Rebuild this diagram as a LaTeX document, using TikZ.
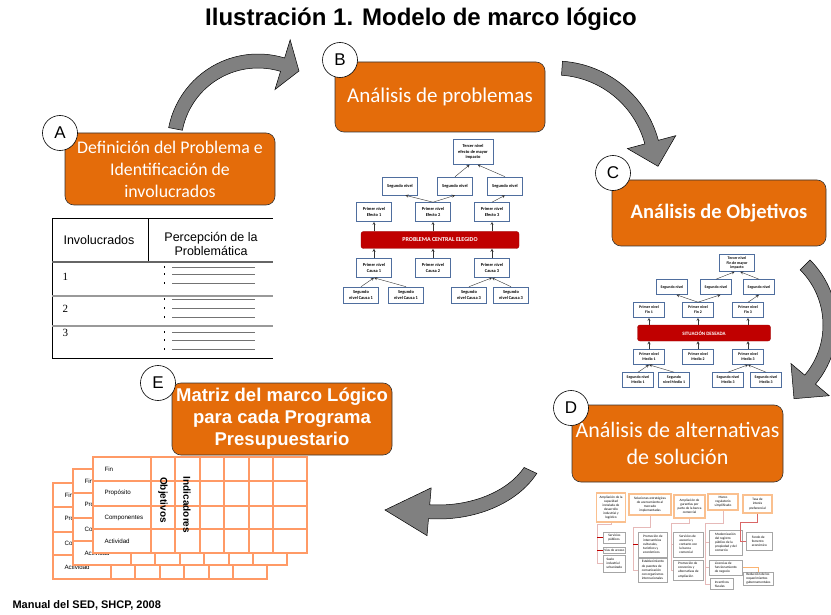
\documentclass[tikz,border=0pt]{standalone}
\usepackage{fontspec}
\setmainfont{Liberation Sans}
\newfontfamily\calibri{Carlito}
\newfontfamily\serifa{Liberation Serif}
\usetikzlibrary{calc}
\definecolor{naranja}{HTML}{E46C0A}
\definecolor{azularbol}{HTML}{4F6E9E}
\definecolor{rojobarra}{HTML}{C00000}
\definecolor{salmon}{HTML}{FF9A66}
\definecolor{durazno}{HTML}{FAC08F}
\definecolor{rosa}{HTML}{E6B9B8}
\definecolor{grisflecha}{HTML}{808080}
\tikzset{
	pasostyle/.style={rectangle,rounded corners=9pt,draw=black!80,line width=0.6pt,fill=naranja,text=white,align=center,inner sep=2pt},
	letrastyle/.style={circle,draw=black,line width=0.6pt,fill=white,minimum size=35pt,inner sep=0pt,font=\fontsize{17}{17}\selectfont},
	flechastyle/.style={fill=grisflecha,draw=black,line width=0.5pt},
	arbolstyle/.style={rectangle,draw=azularbol,line width=0.6pt,fill=white,align=center,inner sep=0.5pt,minimum width=35pt,minimum height=18pt,font=\calibri\bfseries\fontsize{4.4}{5.4}\selectfont},
	chicostyle/.style={arbolstyle,minimum width=31pt,minimum height=15pt,font=\calibri\bfseries\fontsize{3.9}{4.8}\selectfont},
	barrastyle/.style={rectangle,rounded corners=2.5pt,fill=rojobarra,draw=rojobarra!80!black,text=white,font=\calibri\bfseries\fontsize{6}{6}\selectfont},
	flechita/.style={-stealth,line width=0.4pt,black!80},
	altstyle/.style={rectangle,draw=durazno,line width=1.1pt,fill=white,align=center,inner sep=0.5pt,font=\calibri\fontsize{3.4}{4.1}\selectfont},
	accionstyle/.style={rectangle,draw=black!35,line width=0.7pt,fill=white,align=left,inner sep=0.8pt,anchor=west,font=\calibri\fontsize{3.4}{4.1}\selectfont},
	liga/.style={rosa,line width=0.6pt},
	ligaroja/.style={rojobarra,line width=0.9pt},
	matrizstyle/.style={salmon,line width=1.3pt},
	filastyle/.style={anchor=west,font=\fontsize{6.2}{7}\selectfont},
	columnastyle/.style={rotate=-90,font=\bfseries\fontsize{10}{10}\selectfont},
	puntos/.style={black!55,line width=0.25pt,dash pattern=on 0.25pt off 0.6pt}
}
\newcommand{\flecha}[8]{%
	\pgfmathsetmacro\rxo{#3+7}\pgfmathsetmacro\ryo{#4+7}%
	\pgfmathsetmacro\rxi{#3-7}\pgfmathsetmacro\ryi{#4-7}%
	\pgfmathsetmacro\sax{(#3+7)*cos(#5)}\pgfmathsetmacro\say{(#4+7)*sin(#5)}%
	\pgfmathsetmacro\pax{(#3+#7)*cos(#6)}\pgfmathsetmacro\pay{(#4+#7)*sin(#6)}%
	\pgfmathsetmacro\pbx{(#3-#7)*cos(#6)}\pgfmathsetmacro\pby{(#4-#7)*sin(#6)}%
	\pgfmathsetmacro\pix{(#3-7)*cos(#6)}\pgfmathsetmacro\piy{(#4-7)*sin(#6)}%
	\begin{scope}[shift={(#1,#2)}]
		\filldraw[flechastyle] (\sax,\say) arc[start angle=#5,end angle=#6,x radius=\rxo,y radius=\ryo]
			-- (\pax,\pay) -- #8 -- (\pbx,\pby) -- (\pix,\piy)
			arc[start angle=#6,end angle=#5,x radius=\rxi,y radius=\ryi] -- cycle;
	\end{scope}}
\begin{document}
\begin{tikzpicture}[x=1pt,y=-1pt]
		\useasboundingbox (0,0) rectangle (831,615);
		\node[font=\bfseries\fontsize{24}{26}\selectfont] (titulo) at (421,19) {Ilustración 1. Modelo de marco lógico};
		\flecha{258}{145}{84}{84}{191}{287}{26}{(41,-74)}
		\flecha{555}{168}{100}{100}{274}{345}{25}{(103,-1.7)}
		\flecha{745}{325}{85}{85}{315}{400}{25}{(49,73.7)}
		\flecha{438}{440}{102}{72}{25}{95}{24}{(-53,70)}
		\node[pasostyle,minimum width=210pt,minimum height=72pt,font=\calibri\fontsize{17.8}{22}\selectfont] (pasoa) at (170,169) {Definición del Problema e\\Identificación de\\involucrados};
		\node[pasostyle,minimum width=210pt,minimum height=70pt,font=\calibri\fontsize{21}{24}\selectfont] (pasob) at (440,97) {Análisis de problemas};
		\node[pasostyle,minimum width=214pt,minimum height=66pt,font=\calibri\bfseries\fontsize{20.5}{24}\selectfont] (pasoc) at (719,213) {Análisis de Objetivos};
		\node[pasostyle,minimum width=211pt,minimum height=77pt,font=\calibri\fontsize{22}{27}\selectfont] (pasod) at (677.5,443.5) {Análisis de alternativas\\de solución};
		\node[pasostyle,minimum width=220pt,minimum height=72pt,font=\bfseries\fontsize{18.5}{22}\selectfont] (pasoe) at (282,419) {Matriz del marco Lógico\\para cada Programa\\Presupuestario};
		\node[letrastyle] (letraa) at (60,133) {A};
		\node[letrastyle] (letrab) at (340,60) {B};
		\node[letrastyle] (letrac) at (613,173) {C};
		\node[letrastyle] (letrad) at (571,408) {D};
		\node[letrastyle] (letrae) at (158,383) {E};
		\draw[line width=1pt] (52,219) -- (273,219);
		\draw[line width=0.8pt] (52,219) -- (52,358);
		\draw[line width=0.6pt] (148,219) -- (148,262);
		\draw[line width=1.2pt,black!60] (52,262) -- (273,262);
		\draw[line width=1.2pt,black!40] (52,296) -- (273,296);
		\draw[line width=1.2pt,black!40] (52,326) -- (273,326);
		\draw[line width=1pt] (52,358) -- (273,358);
		\node[font=\fontsize{12.5}{14.5}\selectfont] (involucrados) at (99,240) {Involucrados};
		\node[font=\fontsize{12.5}{14.5}\selectfont,align=center] (percepcion) at (211,244) {Percepción de la\\Problemática};
		\node[anchor=west,font=\serifa\fontsize{11}{11}\selectfont] (fila1) at (59,277) {1};
		\node[anchor=west,font=\serifa\fontsize{11}{11}\selectfont] (fila2) at (59,309) {2};
		\node[anchor=west,font=\serifa\fontsize{11}{11}\selectfont] (fila3) at (59,333) {3};
		\foreach \y in {267,274,283,299,308,317,332,340,349} {
			\fill (163.5,\y-0.8) rectangle +(1.6,1.6);
			\draw[puntos] (172,\y) -- (254,\y);
		}
		\node[arbolstyle,minimum width=40pt,minimum height=25pt] (tercerb) at (473,152) {Tercer nivel\\efecto de mayor\\impacto};
		\node[arbolstyle] (segb1) at (400,186) {Segundo nivel};
		\node[arbolstyle] (segb2) at (455,186) {Segundo nivel};
		\node[arbolstyle] (segb3) at (505,186) {Segundo nivel};
		\node[arbolstyle,minimum height=19pt] (efb1) at (374,212) {Primer nivel\\Efecto 1};
		\node[arbolstyle,minimum height=19pt] (efb2) at (433,212) {Primer nivel\\Efecto 2};
		\node[arbolstyle,minimum height=19pt] (efb3) at (492,212) {Primer nivel\\Efecto 3};
		\node[barrastyle,minimum width=158pt,minimum height=17pt] (problema) at (440,240) {PROBLEMA CENTRAL ELEGIDO};
		\node[arbolstyle,minimum height=19pt] (cab1) at (374,268) {Primer nivel\\Causa 1};
		\node[arbolstyle,minimum height=19pt] (cab2) at (433,268) {Primer nivel\\Causa 2};
		\node[arbolstyle,minimum height=19pt] (cab3) at (492,268) {Primer nivel\\Causa 3};
		\node[arbolstyle,minimum height=16pt] (secb1) at (361,295) {Segundo\\nivel Causa 1};
		\node[arbolstyle,minimum height=16pt] (secb2) at (406,295) {Segundo\\nivel Causa 1};
		\node[arbolstyle,minimum height=16pt] (secb3) at (469,295) {Segundo\\nivel Causa 3};
		\node[arbolstyle,minimum height=16pt] (secb4) at (511,295) {Segundo\\nivel Causa 3};
		\draw[flechita] (secb1.north) -- (cab1.south);
		\draw[flechita] (secb2.north) -- (cab1.south);
		\draw[flechita] (secb3.north) -- (cab3.south);
		\draw[flechita] (secb4.north) -- (cab3.south);
		\foreach \n in {1,2,3} {
			\draw[flechita] (cab\n.north) -- (cab\n.north |- problema.south);
			\draw[flechita] (efb\n.south |- problema.north) -- (efb\n.south);
		}
		\draw[flechita] (efb2.north) -- (segb1.300);
		\draw[flechita] (efb2.north) -- (segb2.south);
		\draw[flechita] (efb3.north) -- (segb3.south);
		\draw[flechita] (segb2.north) -- (tercerb.255);
		\draw[flechita] (segb3.north) -- (tercerb.290);
		\node[chicostyle,minimum width=35pt,minimum height=17pt] (tercerc) at (737,263) {Tercer nivel\\Fin de mayor\\impacto};
		\node[chicostyle] (segc1) at (672,287) {Segundo nivel};
		\node[chicostyle] (segc2) at (716,287) {Segundo nivel};
		\node[chicostyle] (segc3) at (759,287) {Segundo nivel};
		\node[chicostyle] (finc1) at (649,310) {Primer nivel\\Fin 1};
		\node[chicostyle] (finc2) at (698,310) {Primer nivel\\Fin 2};
		\node[chicostyle] (finc3) at (748,310) {Primer nivel\\Fin 3};
		\node[barrastyle,minimum width=133pt,minimum height=16pt,font=\calibri\bfseries\fontsize{5}{5}\selectfont] (situacion) at (704,333) {SITUACIÓN DESEADA};
		\node[chicostyle] (medc1) at (649,357) {Primer nivel\\Medio 1};
		\node[chicostyle] (medc2) at (698,357) {Primer nivel\\Medio 2};
		\node[chicostyle] (medc3) at (748,357) {Primer nivel\\Medio 3};
		\node[chicostyle] (semc1) at (638,380) {Segundo nivel\\Medio 1};
		\node[chicostyle] (semc2) at (674,380) {Segundo\\nivel Medio 1};
		\node[chicostyle] (semc3) at (728,380) {Segundo nivel\\Medio 3};
		\node[chicostyle] (semc4) at (766,380) {Segundo nivel\\Medio 3};
		\draw[flechita] (semc1.north) -- (medc1.south);
		\draw[flechita] (semc2.north) -- (medc1.south);
		\draw[flechita] (semc3.north) -- (medc3.south);
		\draw[flechita] (semc4.north) -- (medc3.south);
		\foreach \n in {1,2,3} {
			\draw[flechita] (medc\n.north) -- (medc\n.north |- situacion.south);
			\draw[flechita] (finc\n.south |- situacion.north) -- (finc\n.south);
		}
		\draw[flechita] (finc2.north) -- (segc1.300);
		\draw[flechita] (finc2.north) -- (segc2.300);
		\draw[flechita] (finc3.north) -- (segc3.south);
		\draw[flechita] (segc2.north) -- (tercerc.255);
		\draw[flechita] (segc3.north) -- (tercerc.290);
		\node[altstyle,minimum width=29pt,minimum height=29pt] (alt1) at (611,507.5) {Ampliación de la\\capacidad\\instalada de\\desarrollo\\industrial y\\logístico};
		\node[altstyle,minimum width=42pt,minimum height=21pt] (alt2) at (650,504.5) {Soluciones estratégicas\\de acercamiento al\\mercado\\implementadas};
		\node[altstyle,minimum width=31pt,minimum height=23pt] (alt3) at (689.5,506.5) {Ampliación de\\garantías por\\parte de la banca\\comercial};
		\node[altstyle,minimum width=30pt,minimum height=16pt] (alt4) at (723,502) {Marco\\regulatorio\\simplificado};
		\node[altstyle,minimum width=29pt,minimum height=18pt] (alt5) at (757.5,504) {Tasa de\\interés\\preferencial};
		\node[accionstyle,minimum width=22pt,minimum height=11pt] (acc11) at (603,537.5) {Servicios\\públicos};
		\node[accionstyle,minimum width=22pt,minimum height=6pt] (acc12) at (603,550) {Vías de acceso};
		\node[accionstyle,minimum width=22pt,minimum height=17pt] (acc13) at (603,563.5) {Suelo\\industrial\\urbanizado};
		\node[accionstyle,minimum width=29pt,minimum height=25pt] (acc21) at (638,544.5) {Promoción de\\intercambios\\culturales,\\turísticos y\\económicos};
		\node[accionstyle,minimum width=29pt,minimum height=24pt] (acc22) at (638,570) {Establecimiento\\de puentes de\\comunicación\\con organismos\\internacionales};
		\node[accionstyle,minimum width=30pt,minimum height=25pt] (acc31) at (673,544.5) {Servicios de\\asesoría y\\contacto con\\la banca\\comercial};
		\node[accionstyle,minimum width=30pt,minimum height=20pt] (acc32) at (673,570) {Promoción de\\convenios y\\alternativas de\\ampliación};
		\node[accionstyle,minimum width=33pt,minimum height=25pt] (acc41) at (709,542.5) {Modernización\\del registro\\público de la\\propiedad y del\\comercio};
		\node[accionstyle,minimum width=33pt,minimum height=15pt] (acc42) at (709,567.5) {Licencias de\\funcionamiento\\de negocio};
		\node[accionstyle,minimum width=23pt,minimum height=11pt] (acc43) at (710,584) {Incentivos\\fiscales};
		\node[accionstyle,minimum width=26pt,minimum height=18pt] (acc51) at (746,541) {Fondo de\\fomento\\económico};
		\node[accionstyle,minimum width=30pt,minimum height=12pt] (acc52) at (743,579) {Reducción de los\\requerimientos\\gubernamentales};
		\coordinate (t1) at (597,524);
		\coordinate (t2) at (633,527);
		\coordinate (t3) at (671,523);
		\coordinate (t4) at (705,523);
		\coordinate (t5) at (740,522);
		\draw[liga] (alt1.south) |- (t1) |- (acc13.west);
		\draw[ligaroja] (t1 |- acc11.west) -- (acc11.west);
		\draw[ligaroja] (t1 |- acc12.west) -- (acc12.west);
		\draw[liga] (alt2.south) |- (t2) |- (acc22.west);
		\draw[ligaroja] (t2 |- acc21.west) -- (acc21.west);
		\draw[liga] (alt3.south) |- (t3) |- (acc32.west);
		\draw[liga] (t3 |- acc31.west) -- (acc31.west);
		\draw[liga] (alt4.south) |- (t4) |- (acc43.west);
		\draw[liga] (t4 |- acc41.west) -- (acc41.west);
		\draw[liga] (t4 |- acc42.west) -- (acc42.west);
		\draw[liga,rojobarra!60] (alt5.south) |- (t5) |- (acc51.west);
		\draw[liga,durazno!80!orange] (acc42.east) -| (acc52.north);
		\foreach \dx/\dy in {-40/26,-20/12,0/0} {
			\begin{scope}[shift={(\dx,\dy)}]
				\draw[matrizstyle,fill=white] (93,457) rectangle (307,553);
				\foreach \x in {151,175,200,224,249,273} \draw[matrizstyle] (\x,457) -- (\x,553);
				\foreach \y in {481,506,529} \draw[matrizstyle] (93,\y) -- (307,\y);
				\node[filastyle] at (101,469) {Fin};
				\node[filastyle] at (101,493) {Propósito};
				\node[filastyle] at (101,518) {Componentes};
				\node[filastyle] at (101,541) {Actividad};
				\node[columnastyle] at (163,500) {Objetivos};
				\node[columnastyle] at (187,505) {Indicadores};
			\end{scope}
		}
		\node[anchor=west,font=\bfseries\fontsize{11}{12}\selectfont] (fuente) at (9,605) {Manual del SED, SHCP, 2008};
\end{tikzpicture}
\end{document}
